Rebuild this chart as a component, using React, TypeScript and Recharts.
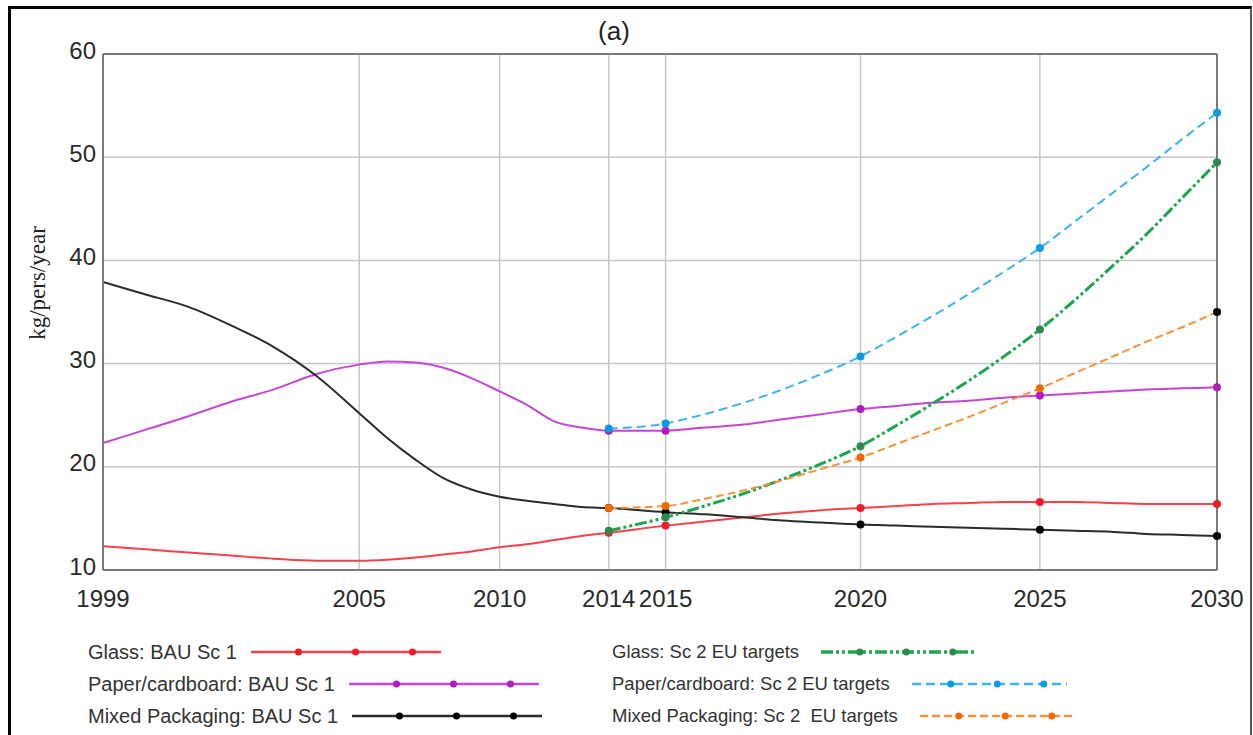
import type { JSX } from "react";

import { CartesianGrid, Line, LineChart, ReferenceLine, XAxis, YAxis } from "recharts";

const years = [
	1999, 2000, 2001, 2002, 2003, 2004, 2005, 2006, 2007, 2008, 2009, 2010, 2011, 2012, 2013, 2014, 2015, 2016,
	2017, 2018, 2019, 2020, 2021, 2022, 2023, 2024, 2025, 2026, 2027, 2028, 2029, 2030,
];

// BAU scenario, 1999-2030
const glassBau = [
	12.3, 12.0, 11.7, 11.4, 11.1, 10.9, 10.9, 11.0, 11.2, 11.5, 11.8, 12.2, 12.5, 12.9, 13.3, 13.6, 14.3, 14.7, 15.1,
	15.5, 15.8, 16.0, 16.2, 16.4, 16.5, 16.6, 16.6, 16.6, 16.5, 16.4, 16.4, 16.4,
];
const paperBau = [
	22.3, 23.6, 24.9, 26.3, 27.5, 29.0, 29.9, 30.2, 30.1, 29.6, 28.6, 27.3, 26.0, 24.4, 23.8, 23.5, 23.5, 23.8, 24.1,
	24.6, 25.1, 25.6, 25.9, 26.2, 26.4, 26.7, 26.9, 27.1, 27.3, 27.5, 27.6, 27.7,
];
const mixedBau = [
	37.9, 36.7, 35.5, 33.7, 31.6, 28.8, 25.2, 22.8, 20.7, 18.9, 17.8, 17.1, 16.7, 16.4, 16.1, 16.0, 15.6, 15.4, 15.1,
	14.8, 14.6, 14.4, 14.3, 14.2, 14.1, 14.0, 13.9, 13.8, 13.7, 13.5, 13.4, 13.3,
];

// EU targets scenario, 2014-2030
const scenarioStart = 2014;
const glassSc2 = [13.8, 15.1, 16.2, 17.4, 18.8, 20.3, 22.0, 24.0, 26.1, 28.3, 30.7, 33.3, 36.2, 39.3, 42.5, 46.0, 49.5];
const paperSc2 = [23.7, 24.2, 25.1, 26.2, 27.5, 29.0, 30.7, 32.6, 34.6, 36.7, 38.9, 41.2, 43.8, 46.4, 49.0, 51.7, 54.3];
const mixedSc2 = [16.0, 16.2, 16.9, 17.7, 18.7, 19.8, 20.9, 22.2, 23.5, 24.8, 26.2, 27.6, 29.1, 30.6, 32.1, 33.5, 35.0];

const markerYears = [2014, 2015, 2020, 2025, 2030];
const tickYears = [1999, 2005, 2010, 2014, 2015, 2020, 2025, 2030];
const yTicks = [10, 20, 30, 40, 50, 60];

// the source figure spaces its year ticks unevenly; where each tick sits along the axis (0-100)
const tickStops = [0, 23.0, 35.6, 45.4, 50.5, 68.0, 84.1, 100];

function yearToStop(year: number): number {
	for (let i = 1; i < tickYears.length; i++) {
		if (year <= tickYears[i]) {
			const t = (year - tickYears[i - 1]) / (tickYears[i] - tickYears[i - 1]);
			return tickStops[i - 1] + t * (tickStops[i] - tickStops[i - 1]);
		}
	}
	return 100;
}

const data = years.map((year, i) => {
	const j = year - scenarioStart;
	return {
		year,
		pos: yearToStop(year),
		glassBau: glassBau[i],
		paperBau: paperBau[i],
		mixedBau: mixedBau[i],
		glassSc2: j >= 0 ? glassSc2[j] : null,
		paperSc2: j >= 0 ? paperSc2[j] : null,
		mixedSc2: j >= 0 ? mixedSc2[j] : null,
	};
});

type Series = {
	key: string;
	name: string;
	color: string;
	marker: string;
	lastMarker?: string;
	dash?: string;
	width: number;
};

const bauSeries: Series[] = [
	{ key: "glassBau", name: "Glass: BAU Sc 1", color: "#f2424b", marker: "#ec1c2a", width: 2 },
	{ key: "paperBau", name: "Paper/cardboard: BAU Sc 1", color: "#c447d4", marker: "#b01cc0", width: 2 },
	{ key: "mixedBau", name: "Mixed Packaging: BAU Sc 1", color: "#2b2b2b", marker: "#000000", width: 2 },
];
const targetSeries: Series[] = [
	{ key: "glassSc2", name: "Glass: Sc 2 EU targets", color: "#1aa64c", marker: "#2c8a4f", dash: "12 3 3 3 3 3", width: 3 },
	{ key: "paperSc2", name: "Paper/cardboard: Sc 2 EU targets", color: "#3db4ea", marker: "#0b9de0", dash: "9 5", width: 2 },
	{
		key: "mixedSc2",
		name: "Mixed Packaging: Sc 2  EU targets",
		color: "#f7923a",
		marker: "#f06a00",
		lastMarker: "#000000",
		dash: "8 4",
		width: 2,
	},
];

const sansFont = "'Liberation Sans', Arial, sans-serif";

function makeDot(s: Series) {
	return (props: any) => {
		const { cx, cy, payload, index } = props;
		if (cy == null || Number.isNaN(cy) || !markerYears.includes(payload.year)) return <g key={index} />;
		const fill = s.lastMarker && payload.year === 2030 ? s.lastMarker : s.marker;
		return <circle key={index} cx={cx} cy={cy} fill={fill} r={4} stroke="none" />;
	};
}

function XTick(props: any): JSX.Element {
	const { x, y, index } = props;
	return (
		<text fill="#2a2a2a" fontFamily={sansFont} fontSize={24} textAnchor="middle" x={x} y={y + 37}>
			{tickYears[index]}
		</text>
	);
}

function YTick(props: any): JSX.Element {
	const { x, y, payload } = props;
	return (
		<text dy="0.36em" fill="#2a2a2a" fontFamily={sansFont} fontSize={24} textAnchor="end" x={x - 7} y={y - 4}>
			{payload.value}
		</text>
	);
}

function LegendEntry({ s, gap, width }: { s: Series; gap: number; width: number }): JSX.Element {
	return (
		<div style={{ alignItems: "center", display: "flex", height: 32 }}>
			<span style={{ whiteSpace: "pre" }}>{s.name}</span>
			<svg height={12} style={{ marginLeft: gap }} width={width}>
				<line stroke={s.color} strokeDasharray={s.dash} strokeWidth={s.width + 0.5} x1={0} x2={width} y1={6} y2={6} />
				{[0.25, 0.55, 0.85].map((f) => (
					<circle cx={f * width} cy={6} fill={s.marker} key={f} r={3.5} />
				))}
			</svg>
		</div>
	);
}

export default function App(): JSX.Element {
	return (
		<div style={{ background: "#fff", height: 735, left: 0, overflow: "hidden", position: "absolute", top: 0, width: 1253 }}>
			<div
				style={{
					borderLeft: "3px solid #000",
					borderRight: "2px solid #555",
					borderTop: "3px solid #000",
					boxSizing: "border-box",
					height: 740,
					left: 8,
					position: "absolute",
					top: 6,
					width: 1244,
				}}
			/>
			<div
				style={{
					color: "#222",
					fontFamily: sansFont,
					fontSize: 26,
					left: 614,
					position: "absolute",
					top: 16,
					transform: "translateX(-50%)",
				}}
			>
				(a)
			</div>
			<div
				style={{
					color: "#222",
					fontFamily: "'Liberation Serif', 'Times New Roman', serif",
					fontSize: 23,
					left: 38,
					position: "absolute",
					top: 283,
					transform: "translate(-50%, -50%) rotate(-90deg)",
					whiteSpace: "nowrap",
				}}
			>
				kg/pers/year
			</div>
			<div style={{ left: 0, position: "absolute", top: 0 }}>
				<LineChart data={data} height={735} margin={{ bottom: 125, left: 43, right: 36, top: 54 }} width={1253}>
					<CartesianGrid stroke="#c6c6cb" strokeWidth={1.5} />
					<XAxis
						axisLine={{ stroke: "#7a7a7a", strokeWidth: 2 }}
						dataKey="pos"
						domain={[0, 100]}
						height={40}
						interval={0}
						tick={<XTick />}
						tickLine={false}
						tickMargin={0}
						tickSize={0}
						ticks={tickStops}
						type="number"
					/>
					<YAxis
						axisLine={{ stroke: "#7a7a7a", strokeWidth: 2 }}
						domain={[10, 60]}
						interval={0}
						tick={<YTick />}
						tickLine={false}
						tickMargin={0}
						tickSize={0}
						ticks={yTicks}
						type="number"
						width={60}
					/>
					<ReferenceLine stroke="#7a7a7a" strokeWidth={2} y={60} />
					<ReferenceLine stroke="#7a7a7a" strokeWidth={2} x={100} />
					{[...bauSeries, ...targetSeries].map((s) => (
						<Line
							activeDot={false}
							dataKey={s.key}
							dot={makeDot(s)}
							isAnimationActive={false}
							key={s.key}
							name={s.name}
							stroke={s.color}
							strokeDasharray={s.dash}
							strokeWidth={s.width}
							type="monotone"
						/>
					))}
				</LineChart>
			</div>
			<div style={{ color: "#333", fontFamily: sansFont, fontSize: 20, left: 88, position: "absolute", top: 636 }}>
				{bauSeries.map((s) => (
					<LegendEntry gap={14} key={s.key} s={s} width={190} />
				))}
			</div>
			<div style={{ color: "#333", fontFamily: sansFont, fontSize: 18.5, left: 612, position: "absolute", top: 636 }}>
				{targetSeries.map((s) => (
					<LegendEntry gap={22} key={s.key} s={s} width={155} />
				))}
			</div>
		</div>
	);
}
